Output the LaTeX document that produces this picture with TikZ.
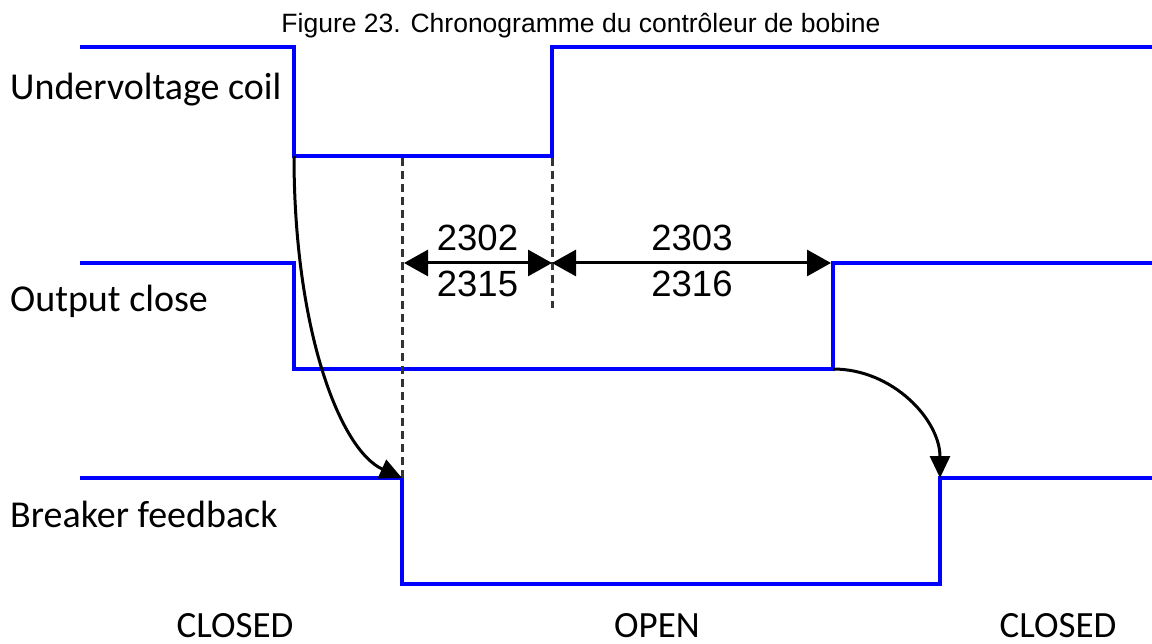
\documentclass[tikz,border=0pt]{standalone}
\usepackage{fontspec}
\setmainfont{Liberation Sans}
\newfontfamily\calfont{Carlito}
\usetikzlibrary{arrows.meta}
\begin{document}
\begin{tikzpicture}[x=1pt,y=-1pt,
 sig/.style={draw={rgb,255:red,0;green,0;blue,255}, line width=3.6pt},
 guide/.style={draw=black!80, line width=3pt, dash pattern=on 8pt off 5pt},
 dim/.style={draw=black, line width=3pt, {Triangle[length=24pt,width=26pt]}-{Triangle[length=24pt,width=26pt]}},
 cause/.style={draw=black, line width=3pt, -{Triangle[length=22pt,width=20pt]}},
 lbl/.style={font=\calfont\fontsize{38}{42}\selectfont, anchor=base west, inner sep=0pt},
 statelbl/.style={font=\calfont\fontsize{37}{42}\selectfont, anchor=base, inner sep=0pt},
 num/.style={font=\fontsize{36.5}{40}\selectfont, anchor=base, inner sep=0pt},
 ttl/.style={font=\fontsize{26.5}{30}\selectfont, anchor=base, inner sep=0pt}]
\useasboundingbox (0,0) rectangle (1152,644);
% title
\node[ttl] (title) at (581,33) {Figure 23. Chronogramme du contr\^oleur de bobine};
% signal labels
\node[lbl] (luv) at (10,100) {Undervoltage coil};
\node[lbl] (loc) at (10,312) {Output close};
\node[lbl] (lbf) at (10,527) {Breaker feedback};
% state labels
\node[statelbl] (s1) at (235,637) {CLOSED};
\node[statelbl] (s2) at (657,637) {OPEN};
\node[statelbl] (s3) at (1058,637) {CLOSED};
% undervoltage coil
\coordinate (u0) at (80,47);
\coordinate (u1) at (294,47);
\coordinate (u2) at (294,156);
\coordinate (u3) at (552,156);
\coordinate (u4) at (552,47);
\coordinate (u5) at (1152,47);
\draw[sig] (u0) -- (u1) -- (u2) -- (u3) -- (u4) -- (u5);
% output close
\coordinate (o0) at (80,263);
\coordinate (o1) at (294,263);
\coordinate (o2) at (294,369);
\coordinate (o3) at (833,369);
\coordinate (o4) at (833,263);
\coordinate (o5) at (1152,263);
\draw[sig] (o0) -- (o1) -- (o2) -- (o3) -- (o4) -- (o5);
% breaker feedback
\coordinate (b0) at (80,478);
\coordinate (b1) at (402,478);
\coordinate (b2) at (402,584);
\coordinate (b3) at (940,584);
\coordinate (b4) at (940,478);
\coordinate (b5) at (1152,478);
\draw[sig] (b0) -- (b1) -- (b2) -- (b3) -- (b4) -- (b5);
% dashed guides
\coordinate (d1) at (402,158);
\coordinate (d2) at (552,308);
\coordinate (d3) at (552,158);
\draw[guide] (d1) -- (b1);
\draw[guide] (d3) -- (d2);
% dimension arrows
\coordinate (m1) at (404,263);
\coordinate (m2) at (552,263);
\coordinate (m3) at (831,263);
\draw[dim] (m1) -- (m2);
\draw[dim] (m2) -- (m3);
\node[num] (n2302) at (477.5,251) {2302};
\node[num] (n2315) at (477.5,297) {2315};
\node[num] (n2303) at (692,251) {2303};
\node[num] (n2316) at (692,297) {2316};
% causal arrows
\draw[cause] (u2) .. controls (294,330) and (340,450) .. (b1);
\draw[cause] (o3) .. controls (893,369) and (940,420) .. (b4);
\end{tikzpicture}
\end{document}
